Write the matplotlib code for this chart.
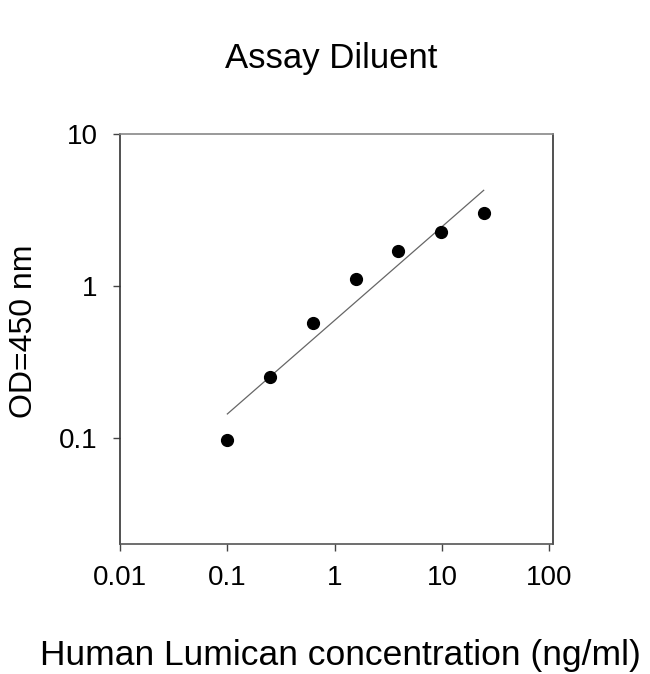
import numpy as np
import matplotlib
matplotlib.use('Agg')
import matplotlib.pyplot as plt
from matplotlib.ticker import FixedLocator, NullLocator

plt.rcParams['font.family'] = ['Liberation Sans', 'DejaVu Sans']

# standard curve data (2.5-fold dilutions)
conc = [0.1, 0.25, 0.625, 1.5625, 3.90625, 9.765625, 24.4140625]
od = [0.097, 0.25, 0.57, 1.11, 1.70, 2.27, 3.02]

x_ticks = [0.01, 0.1, 1, 10, 100]
x_labels = ['0.01', '0.1', '1', '10', '100']
y_ticks = [0.1, 1, 10]
y_labels = ['0.1', '1', '10']

# log-log linear fit
coef = np.polyfit(np.log10(conc), np.log10(od), 1)
fit_x = np.array([conc[0], conc[-1]])
fit_y = 10 ** np.polyval(coef, np.log10(fit_x))

fig = plt.figure(figsize=(6.5, 6.74), dpi=100)
ax = fig.add_axes([0.1846, 0.1929, 0.6662, 0.6083])

ax.plot(fit_x, fit_y, color='#666666', lw=0.9)
ax.plot(conc, od, 'o', color='black', ms=8.5)

ax.set_xscale('log')
ax.set_yscale('log')
ax.set_xlim(0.01, 108)
ax.set_ylim(0.02, 10)
ax.xaxis.set_major_locator(FixedLocator(x_ticks))
ax.xaxis.set_minor_locator(NullLocator())
ax.yaxis.set_major_locator(FixedLocator(y_ticks))
ax.yaxis.set_minor_locator(NullLocator())
ax.set_xticklabels(x_labels)
ax.set_yticklabels(y_labels)
ax.tick_params(direction='out', length=5, width=1, labelsize=20, color='#444444')
ax.tick_params(axis='x', pad=10)
ax.tick_params(axis='y', pad=11)

ax.spines['left'].set_color('#333333')
ax.spines['bottom'].set_color('#555555')
ax.spines['top'].set_color('#888888')
ax.spines['right'].set_color('#333333')
for s in ax.spines.values():
    s.set_linewidth(1.2)

fig.text(0.509, 0.913, 'Assay Diluent', ha='center', va='center', fontsize=25)
fig.text(0.523, 0.028, 'Human Lumican concentration (ng/ml)', ha='center', va='center', fontsize=25.5)
fig.text(0.037, 0.509, 'OD=450 nm', ha='center', va='center', rotation=90, fontsize=23)

fig.savefig('out.png', dpi=100)
